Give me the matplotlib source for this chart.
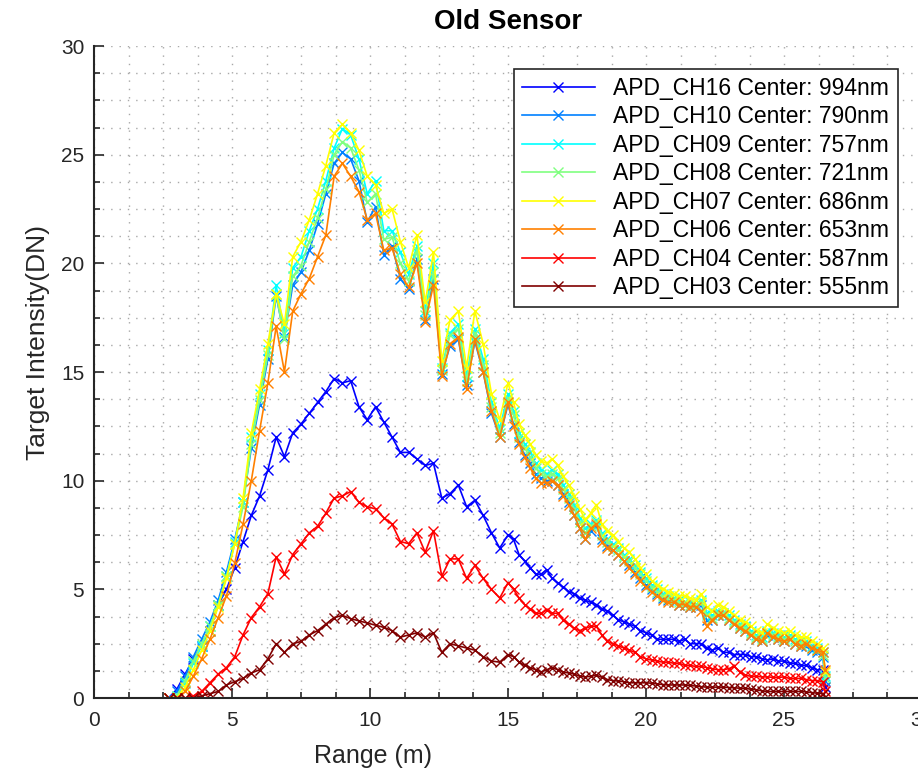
import numpy as np
import matplotlib
matplotlib.use("Agg")
import matplotlib.pyplot as plt
from matplotlib.ticker import MultipleLocator

plt.rcParams['font.family'] = ['Liberation Sans', 'DejaVu Sans']

rng_m = [2.7, 3.0, 3.3, 3.6, 3.9, 4.2, 4.5, 4.8, 5.1, 5.4,
         5.7, 6.0, 6.3, 6.6, 6.9, 7.2, 7.5, 7.8, 8.1, 8.4,
         8.7, 9.0, 9.3, 9.6, 9.9, 10.2, 10.5, 10.8, 11.1, 11.4,
         11.7, 12.0, 12.3, 12.6, 12.9, 13.2, 13.5, 13.8, 14.1, 14.4,
         14.7, 15.0,
         15.2, 15.4, 15.6, 15.8, 16.0, 16.2, 16.4, 16.6,
         16.8, 17.0, 17.2, 17.4, 17.6, 17.8, 18.0, 18.2, 18.4, 18.6,
         18.8, 19.0, 19.2, 19.4, 19.6, 19.8, 20.0, 20.2, 20.4, 20.6,
         20.8, 21.0, 21.2, 21.4, 21.6, 21.8, 22.0, 22.2, 22.4, 22.6,
         22.8, 23.0, 23.2, 23.4, 23.6, 23.8, 24.0, 24.2, 24.4, 24.6,
         24.8, 25.0, 25.2, 25.4, 25.6, 25.8, 26.0, 26.2, 26.4, 26.5]

ch16 = [0.0, 0.4, 1.1, 1.8, 2.4, 3.1, 4.3, 5.0, 6.0, 7.2,
        8.4, 9.3, 10.5, 12.0, 11.1, 12.2, 12.6, 13.1, 13.6, 14.1,
        14.7, 14.5, 14.6, 13.4, 12.8, 13.4, 12.7, 12.0, 11.3, 11.3,
        11.0, 10.7, 10.8, 9.2, 9.4, 9.8, 8.8, 9.1, 8.4, 7.6,
        6.9, 7.5,
        7.3, 6.6, 6.3, 6.0, 5.7, 5.7, 5.9, 5.5,
        5.3, 5.1, 4.9, 4.8, 4.6, 4.5, 4.4, 4.3, 4.1, 4.0,
        3.8, 3.6, 3.5, 3.4, 3.3, 3.1, 3.0, 2.9, 2.7, 2.7,
        2.7, 2.7, 2.6, 2.7, 2.5, 2.5, 2.5, 2.3, 2.2, 2.3,
        2.1, 2.1, 2.0, 2.0, 2.0, 1.9, 1.9, 1.8, 1.75, 1.8,
        1.7, 1.7, 1.6, 1.6, 1.5, 1.5, 1.4, 1.3, 1.3, 0.5]

ch10 = [0.0, 0.3, 1.0, 1.9, 2.7, 3.5, 4.5, 5.8, 7.3, 9.0,
        11.5, 13.5, 15.6, 18.5, 16.6, 19.0, 19.6, 20.6, 21.8, 23.2,
        24.6, 25.1, 24.8, 23.8, 21.9, 22.6, 20.4, 20.8, 19.3, 18.8,
        20.2, 17.4, 19.3, 14.9, 16.2, 16.5, 14.4, 16.4, 15.0, 13.1,
        12.0, 13.5,
        12.6, 11.8, 11.2, 10.8, 10.3, 10.1, 10.0, 10.0,
        9.8, 9.4, 9.0, 8.4, 7.8, 7.3, 7.7, 7.9, 7.3, 7.0,
        6.8, 6.6, 6.3, 6.1, 5.8, 5.5, 5.2, 5.0, 4.8, 4.6,
        4.5, 4.4, 4.3, 4.3, 4.2, 4.2, 4.3, 3.6, 3.6, 3.8,
        3.8, 3.6, 3.4, 3.2, 3.1, 2.9, 2.7, 2.6, 2.9, 2.8,
        2.7, 2.6, 2.7, 2.5, 2.4, 2.4, 2.2, 2.1, 1.9, 0.8]

ch09 = [0.0, 0.1, 0.7, 1.6, 2.4, 3.3, 4.3, 5.6, 7.2, 9.0,
        12.0, 14.0, 16.0, 19.0, 16.8, 19.8, 20.3, 21.5, 22.5, 23.8,
        25.3, 26.2, 25.9, 24.8, 23.2, 23.8, 21.5, 21.5, 20.5, 19.5,
        20.8, 17.8, 20.0, 15.2, 16.8, 17.2, 14.8, 17.0, 15.6, 13.6,
        12.4, 14.0,
        13.2, 12.2, 11.7, 11.3, 10.8, 10.5, 10.3, 10.5,
        10.3, 9.8, 9.4, 8.9, 8.3, 7.8, 8.0, 8.2, 7.6, 7.3,
        7.1, 6.9, 6.6, 6.4, 6.1, 5.8, 5.5, 5.2, 5.0, 4.8,
        4.7, 4.6, 4.5, 4.4, 4.4, 4.3, 4.5, 3.9, 3.8, 4.0,
        3.9, 3.8, 3.6, 3.4, 3.3, 3.1, 2.9, 2.8, 3.1, 3.0,
        2.9, 2.8, 2.9, 2.7, 2.6, 2.6, 2.4, 2.3, 2.1, 1.0]

ch08 = [0.0, 0.1, 0.8, 1.7, 2.5, 3.3, 4.3, 5.6, 7.1, 8.8,
        11.7, 13.7, 15.8, 18.6, 16.5, 19.4, 19.9, 21.0, 22.1, 23.4,
        25.0, 25.6, 25.3, 24.3, 22.8, 23.2, 21.1, 21.2, 20.0, 19.2,
        20.6, 17.6, 19.6, 15.1, 16.7, 17.0, 14.6, 16.8, 15.3, 13.4,
        12.2, 13.8,
        13.0, 12.0, 11.5, 11.1, 10.6, 10.3, 10.2, 10.3,
        10.1, 9.6, 9.2, 8.7, 8.1, 7.6, 7.9, 8.1, 7.5, 7.2,
        7.0, 6.8, 6.5, 6.3, 6.0, 5.7, 5.4, 5.1, 4.9, 4.7,
        4.6, 4.5, 4.4, 4.4, 4.3, 4.3, 4.4, 3.8, 3.7, 3.9,
        3.9, 3.7, 3.5, 3.3, 3.2, 3.0, 2.8, 2.7, 3.0, 2.9,
        2.8, 2.7, 2.8, 2.6, 2.5, 2.5, 2.3, 2.2, 2.0, 0.9]

ch07 = [0.0, 0.0, 0.5, 1.3, 2.2, 3.1, 4.2, 5.5, 7.1, 9.2,
        12.2, 14.2, 16.3, 18.6, 17.2, 20.3, 21.0, 22.0, 23.2, 24.5,
        26.0, 26.4, 26.0, 25.2, 24.0, 23.6, 22.3, 22.5, 21.0, 19.8,
        21.3, 18.2, 20.5, 15.5, 17.4, 17.8, 15.2, 17.8, 16.3, 14.0,
        12.8, 14.5,
        13.6, 12.6, 12.1, 11.7, 11.2, 10.9, 10.8, 11.0,
        10.7, 10.2, 9.8, 9.3, 8.7, 8.2, 8.5, 8.9, 8.0, 7.7,
        7.5, 7.2, 6.9, 6.7, 6.4, 6.0, 5.7, 5.4, 5.2, 5.0,
        4.9, 4.8, 4.7, 4.7, 4.6, 4.5, 4.8, 4.2, 4.0, 4.3,
        4.2, 4.0, 3.8, 3.6, 3.5, 3.3, 3.1, 3.0, 3.4, 3.2,
        3.1, 3.0, 3.1, 2.9, 2.8, 2.8, 2.6, 2.5, 2.3, 1.2]

ch06 = [0.0, 0.0, 0.3, 1.0, 1.8, 2.7, 3.7, 4.7, 6.2, 8.0,
        10.0, 12.3, 14.5, 17.1, 15.0, 17.8, 18.6, 19.3, 20.3, 21.3,
        24.0, 24.6, 24.0, 23.3, 22.0, 22.3, 20.6, 20.7, 19.5, 18.9,
        20.0, 17.3, 19.0, 14.8, 16.3, 16.6, 14.2, 16.5, 15.0, 13.2,
        12.0, 13.6,
        12.5, 11.7, 11.1, 10.6, 10.1, 9.9, 9.9, 10.0,
        9.8, 9.3, 8.9, 8.4, 7.8, 7.3, 7.8, 8.0, 7.2, 6.9,
        6.8, 6.6, 6.3, 6.0, 5.7, 5.4, 5.1, 4.9, 4.7, 4.5,
        4.4, 4.4, 4.3, 4.3, 4.2, 4.2, 4.0, 3.3, 3.6, 3.8,
        3.8, 3.6, 3.4, 3.2, 3.1, 2.9, 2.7, 2.6, 3.0, 2.8,
        2.7, 2.6, 2.7, 2.5, 2.4, 2.5, 2.3, 2.2, 2.1, 1.3]

ch04 = [0.0, 0.0, 0.0, 0.1, 0.3, 0.7, 1.1, 1.4, 1.9, 2.9,
        3.7, 4.2, 4.8, 6.5, 5.7, 6.6, 7.1, 7.6, 7.9, 8.5,
        9.2, 9.3, 9.5, 9.0, 8.8, 8.7, 8.3, 8.0, 7.2, 7.1,
        7.6, 6.7, 7.7, 5.6, 6.4, 6.4, 5.5, 6.1, 5.5, 5.0,
        4.6, 5.3,
        5.0, 4.6, 4.3, 4.1, 3.9, 3.9, 4.05, 3.9,
        3.9, 3.6, 3.4, 3.2, 3.1, 3.2, 3.3, 3.3, 2.9, 2.6,
        2.5, 2.4, 2.3, 2.2, 2.1, 1.9, 1.8, 1.75, 1.7, 1.65,
        1.65, 1.6, 1.6, 1.5, 1.5, 1.45, 1.45, 1.4, 1.35, 1.3,
        1.3, 1.35, 1.45, 1.2, 1.05, 1.0, 1.0, 0.97, 0.97, 0.95,
        0.95, 0.97, 0.9, 0.9, 0.9, 0.85, 0.8, 0.8, 0.75, 0.3]

ch03 = [0.0, 0.0, 0.0, 0.0, 0.1, 0.2, 0.3, 0.6, 0.75, 0.9,
        1.15, 1.3, 1.8, 2.5, 2.1, 2.5, 2.6, 2.9, 3.1, 3.4,
        3.7, 3.8, 3.65, 3.55, 3.45, 3.35, 3.25, 3.1, 2.8, 2.9,
        3.0, 2.8, 3.0, 2.1, 2.5, 2.4, 2.3, 2.2, 1.9, 1.7,
        1.65, 2.0,
        1.9, 1.65, 1.5, 1.4, 1.3, 1.2, 1.3, 1.4,
        1.3, 1.2, 1.15, 1.1, 1.0, 0.97, 1.0, 1.05, 0.95, 0.85,
        0.8, 0.78, 0.75, 0.7, 0.7, 0.7, 0.7, 0.68, 0.65, 0.62,
        0.6, 0.6, 0.6, 0.6, 0.58, 0.55, 0.52, 0.5, 0.5, 0.5,
        0.5, 0.48, 0.47, 0.45, 0.45, 0.4, 0.38, 0.33, 0.3, 0.3,
        0.3, 0.3, 0.3, 0.3, 0.3, 0.28, 0.25, 0.22, 0.2, 0.05]

labels = ["APD_CH16 Center: 994nm", "APD_CH10 Center: 790nm",
          "APD_CH09 Center: 757nm", "APD_CH08 Center: 721nm",
          "APD_CH07 Center: 686nm", "APD_CH06 Center: 653nm",
          "APD_CH04 Center: 587nm", "APD_CH03 Center: 555nm"]
series = [ch16, ch10, ch09, ch08, ch07, ch06, ch04, ch03]
# jet(8)
colors = [(0, 0, 1), (0, 0.5, 1), (0, 1, 1), (0.5, 1, 0.5),
          (1, 1, 0), (1, 0.5, 0), (1, 0, 0), (0.5, 0, 0)]

fig = plt.figure(figsize=(9.18, 7.71), dpi=100)
ax = fig.add_axes([94/918, 73/771, 828/918, 652/771])

for y, lab, c in zip(series, labels, colors):
    ax.plot(rng_m, y, color=c, marker='x', markersize=7, mew=1, lw=1.2, label=lab)

ax.set_xlim(0, 30)
ax.set_ylim(0, 30)
ax.xaxis.set_major_locator(MultipleLocator(5))
ax.yaxis.set_major_locator(MultipleLocator(5))
ax.xaxis.set_minor_locator(MultipleLocator(1.25))
ax.yaxis.set_minor_locator(MultipleLocator(1.25))
ax.grid(which='both', linestyle=(0, (1, 5)), color='#a8a8a8', lw=1.0)
ax.set_axisbelow(True)

for s in ['top', 'right']:
    ax.spines[s].set_visible(False)
for s in ['left', 'bottom']:
    ax.spines[s].set_color('#262626')
    ax.spines[s].set_linewidth(1.5)
ax.tick_params(which='both', direction='in', colors='#262626', labelsize=15, width=1.2)
ax.tick_params(which='major', length=7)
ax.tick_params(which='minor', length=4)
ax.tick_params(axis='x', pad=9)
ax.tick_params(axis='y', pad=7)

ax.set_title("Old Sensor", fontsize=20, fontweight='bold', pad=12)
ax.set_xlabel("Range (m)", fontsize=18, color='#262626')
ax.set_ylabel("Target Intensity(DN)", fontsize=19, color='#262626')
ax.xaxis.set_label_coords(0.337, -0.07)
ax.yaxis.set_label_coords(-0.053, 0.546)

leg = ax.legend(loc='upper left', bbox_to_anchor=(0.507, 0.965), borderaxespad=0,
                fontsize=16.5, frameon=True, fancybox=False, framealpha=1,
                edgecolor='#262626', handlelength=3.2, labelspacing=0.24,
                borderpad=0.35, numpoints=1)
leg.get_frame().set_linewidth(1.2)

fig.savefig("out.png", dpi=100)
